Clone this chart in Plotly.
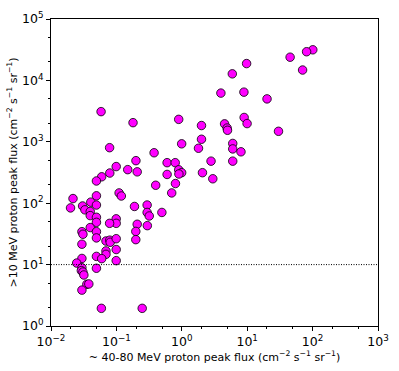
import plotly.graph_objects as go

# ~40-80 MeV peak flux (x) vs >10 MeV peak flux (y)
flux_40_80 = [
    0.0583, 0.1795, 0.897, 2.0, 5.92, 9.79, 3.96, 8.91, 8.98, 9.96,
    4.51, 4.93, 5.0, 0.0787, 0.995, 2.0, 1.80, 6.01, 6.01, 8.03,
    0.377, 0.199, 0.0993, 0.149, 0.596, 0.793, 2.80, 6.01, 0.0793, 0.208,
    0.596, 0.897, 0.995, 0.903, 2.07, 100.7, 80.9, 45.3, 70.3, 20.1,
    30.1, 0.0596, 0.0495, 2.98, 0.399, 0.80, 0.701, 0.110, 0.119, 0.0495,
    0.0217, 0.0199, 0.0304, 0.033, 0.0406, 0.0495, 0.0398, 0.0398, 0.0495, 0.0495,
    0.0993, 0.0993, 0.0787, 0.0398, 0.0297, 0.0308, 0.0495, 0.0495, 0.0297, 0.0693,
    0.0793, 0.0805, 0.0993, 0.0993, 0.0693, 0.0693, 0.0495, 0.0596, 0.0297, 0.0993,
    0.0247, 0.0297, 0.0291, 0.0308, 0.0318, 0.0495, 0.0353, 0.0379, 0.0297, 0.0589,
    0.248, 0.189, 0.295, 0.295, 0.318, 0.496, 0.208, 0.198, 0.297, 0.198,
]
flux_10 = [
    3100, 2050, 2320, 1840, 12790, 18800, 6210, 6440, 2490, 1980,
    1960, 1675, 1540, 802, 927, 1100, 785, 940, 766, 687,
    663, 493, 395, 352, 457, 457, 484, 484, 310, 324,
    294, 350, 314, 299, 314, 31500, 29300, 23870, 14760, 5000,
    1482, 269, 230, 250, 196, 209, 147, 147, 131, 132,
    119, 83.8, 90.1, 78.0, 104, 93.4, 73.3, 62.8, 59.0, 48.8,
    55.6, 47.0, 47.0, 40.1, 34.4, 31.2, 34.4, 27.2, 21.5, 24.2,
    25.0, 23.1, 26.4, 17.6, 16.7, 14.7, 13.6, 12.5, 12.6, 11.6,
    10.6, 8.88, 7.97, 7.55, 6.77, 8.72, 4.77, 4.84, 3.84, 1.94,
    1.94, 88.5, 93.4, 70.7, 61.9, 70.7, 45.4, 34.7, 43.1, 25.5,
]

threshold = 10

x_ticks = [1e-2, 1e-1, 1e0, 1e1, 1e2, 1e3]
x_tick_text = ["10<sup>−2</sup>", "10<sup>−1</sup>", "10<sup>0</sup>",
               "10<sup>1</sup>", "10<sup>2</sup>", "10<sup>3</sup>"]
y_ticks = [1e0, 1e1, 1e2, 1e3, 1e4, 1e5]
y_tick_text = ["10<sup>0</sup>", "10<sup>1</sup>", "10<sup>2</sup>",
               "10<sup>3</sup>", "10<sup>4</sup>", "10<sup>5</sup>"]

fig = go.Figure()
fig.add_trace(go.Scatter(
    x=flux_40_80, y=flux_10, mode="markers",
    marker=dict(size=8.5, color="#ff00ff", line=dict(color="black", width=0.8)),
    showlegend=False,
))

# horizontal dotted threshold line
fig.add_shape(type="line", xref="paper", x0=0, x1=1, yref="y",
              y0=threshold, y1=threshold,
              line=dict(color="black", width=1, dash="1px,1.5px"))

axis_style = dict(
    type="log", showgrid=False, zeroline=False,
    showline=True, linecolor="black", linewidth=1, mirror=True,
    ticks="outside", ticklen=4, tickwidth=1, tickcolor="black",
    tickfont=dict(size=12.5, color="black"),
    minor=dict(ticks="outside", ticklen=2, tickcolor="black", showgrid=False),
)

fig.update_xaxes(
    **axis_style, range=[-2, 3], tickvals=x_ticks, ticktext=x_tick_text,
    title=dict(text="~ 40-80 MeV proton peak flux (cm<sup>−2</sup> s<sup>−1</sup> sr<sup>−1</sup>)",
               font=dict(size=11, color="black"), standoff=4),
)
fig.update_yaxes(
    **axis_style, range=[0, 5], tickvals=y_ticks, ticktext=y_tick_text,
    title=dict(text=">10 MeV proton peak flux (cm<sup>−2</sup> s<sup>−1</sup> sr<sup>−1</sup>)",
               font=dict(size=11, color="black"), standoff=2),
)

fig.update_layout(
    width=399, height=371,
    margin=dict(l=51, r=17, t=10, b=42),
    paper_bgcolor="white", plot_bgcolor="white",
    font=dict(family="DejaVu Sans", color="black"),
)

# drop the default page margin so the figure fills the window exactly
fig.write_html("out.html",
               config={"displayModeBar": False},
               post_script="document.body.style.margin='0';"
                           "document.body.style.overflow='hidden';")
